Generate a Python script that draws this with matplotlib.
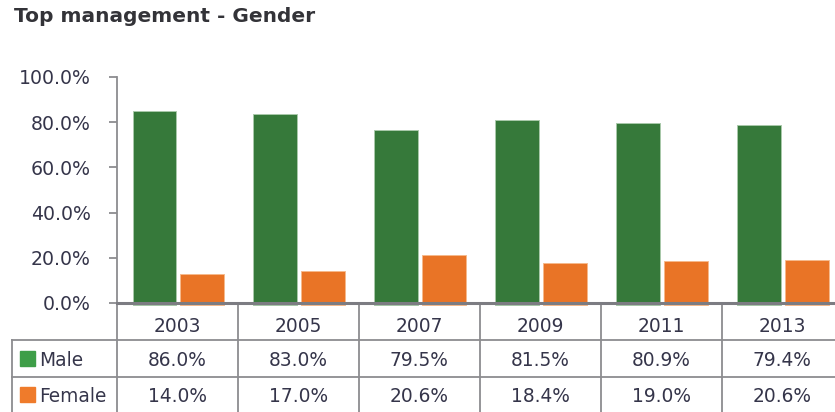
import numpy as np
import matplotlib
matplotlib.use("Agg")
from matplotlib import pyplot as plt

YEARS = ["2003", "2005", "2007", "2009", "2011", "2013"]
# bar heights as drawn in the picture
MALE_BAR = [84.8, 83.5, 76.7, 80.8, 79.5, 78.8]
FEMALE_BAR = [13.0, 14.3, 21.1, 17.7, 18.4, 19.0]
# values printed in the data table
MALE_TABLE = [86.0, 83.0, 79.5, 81.5, 80.9, 79.4]
FEMALE_TABLE = [14.0, 17.0, 20.6, 18.4, 19.0, 20.6]
Y_TICKS = [0, 20, 40, 60, 80, 100]

GREEN = "#36793a"
ORANGE = "#e97426"
GRID = "#8c8c90"
TXT = "#35354a"

W, H = 835, 412
fig = plt.figure(figsize=(W / 100, H / 100), dpi=100)
plt.rcParams["font.family"] = ["DejaVu Sans"]

ax = fig.add_axes([117 / W, 109 / H, 6 * 120.9 / W, 226 / H])
x = np.arange(len(YEARS)) + 0.5
bw = 0.362
ax.bar(x - 0.19, np.array(MALE_BAR) + 1, bw, bottom=-1, color=GREEN,
       edgecolor="#a9c9aa", linewidth=0.7, clip_on=False, zorder=2)
ax.bar(x + 0.205, np.array(FEMALE_BAR) + 1, bw, bottom=-1, color=ORANGE,
       edgecolor="#f6b98c", linewidth=0.7, clip_on=False, zorder=2)

ax.set_xlim(0, len(YEARS))
ax.set_ylim(0, 100)
ax.set_xticks([])
ax.set_yticks(Y_TICKS)
ax.set_yticklabels(["{:.1f}%".format(v) for v in Y_TICKS])
ax.tick_params(axis="y", length=5.5, width=1.3, color=GRID, pad=13.5,
               labelsize=13.6, labelcolor=TXT)
for s in ["top", "right", "bottom"]:
    ax.spines[s].set_visible(False)
ax.spines["left"].set_color(GRID)
ax.spines["left"].set_linewidth(1.3)
ax.axhline(0, color="#7c7c82", lw=2.2, zorder=4, clip_on=False)

# data table below the plot
trans = ax.get_xaxis_transform()
px = 1 / 226.0
y_hdr = -37.3 * px
y_male = -73.8 * px
y_end = -0.52
x_left = -0.871
for i in range(len(YEARS) + 1):
    ax.plot([i, i], [0, y_end], color=GRID, lw=1.3, transform=trans, clip_on=False)
ax.plot([x_left, x_left], [y_hdr, y_end], color=GRID, lw=1.3, transform=trans, clip_on=False)
for yy in [y_hdr, y_male]:
    ax.plot([x_left, len(YEARS)], [yy, yy], color=GRID, lw=1.3, transform=trans, clip_on=False)

fs = 13.4
y_year = -24 * px
y_mrow = -57.5 * px
y_frow = -93 * px
for i, yr in enumerate(YEARS):
    ax.text(x[i], y_year, yr, transform=trans, ha="center", va="center",
            fontsize=fs, color=TXT)
    ax.text(x[i], y_mrow, "{:.1f}%".format(MALE_TABLE[i]), transform=trans,
            ha="center", va="center", fontsize=fs, color=TXT)
    ax.text(x[i], y_frow, "{:.1f}%".format(FEMALE_TABLE[i]), transform=trans,
            ha="center", va="center", fontsize=fs, color=TXT)

# legend keys inside the table
ax.plot([-0.746], [-55 * px], marker="s", markersize=10.8, color="#3e9e48",
        transform=trans, clip_on=False)
ax.plot([-0.746], [-91.2 * px], marker="s", markersize=10.8, color="#ef7b2b",
        transform=trans, clip_on=False)
ax.text(-0.64, y_mrow, "Male", transform=trans, ha="left", va="center",
        fontsize=fs, color=TXT)
ax.text(-0.64, y_frow, "Female", transform=trans, ha="left", va="center",
        fontsize=fs, color=TXT)

fig.text(14 / W, 1 - 17 / H, "Top management - Gender", ha="left", va="center",
         fontsize=14.5, fontweight="bold", color="#333338")

fig.savefig("out.png", dpi=100)
